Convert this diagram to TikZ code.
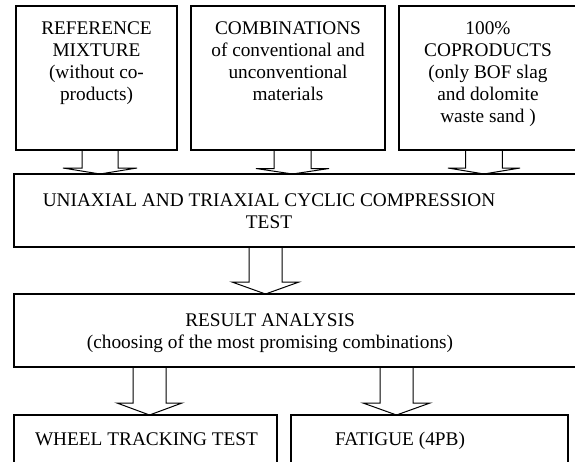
\documentclass[tikz,border=0pt]{standalone}
\usepackage{fontspec}
\setmainfont{Liberation Serif}
\usetikzlibrary{calc}
\tikzset{
  box/.style={draw, line width=1.3pt, inner sep=0pt, outer sep=0pt, anchor=north west},
  txt/.style={font=\fontsize{19.3}{22}\selectfont, align=center, inner sep=0pt, anchor=base},
  arrowline/.style={draw, line width=1pt, line join=miter}
}
% #1 from, #2 to, #3 centre x, #4 half stem, #5 half head, #6 head height
\newcommand{\blockarr}[6]{%
  \draw[arrowline] let \p1=(#1.south), \p2=(#2.north) in
    (#3-#4,\y1) -- (#3-#4,\y2+#6) -- (#3-#5,\y2+#6) -- (#3,\y2)
    -- (#3+#5,\y2+#6) -- (#3+#4,\y2+#6) -- (#3+#4,\y1);}
\begin{document}
\begin{tikzpicture}[x=1pt,y=-1pt]
\useasboundingbox (0,0) rectangle (575,461);
\clip (0,0) rectangle (575,461);
% boxes
\node[box, minimum width=161pt, minimum height=144pt] (b1) at (16,6) {};
\node[box, minimum width=194pt, minimum height=144pt] (b2) at (191,6) {};
\node[box, minimum width=181pt, minimum height=144pt] (b3) at (399,6) {};
\node[box, minimum width=571pt, minimum height=73pt] (uni) at (14,174) {};
\node[box, minimum width=571pt, minimum height=73pt] (res) at (14,294) {};
\node[box, minimum width=263pt, minimum height=55pt] (wheel) at (14,415) {};
\node[box, minimum width=277pt, minimum height=55pt] (fat) at (291,415) {};
% texts (anchor = baseline of the last line)
\node[txt] (t1) at (96.5,100.3) {REFERENCE\\MIXTURE\\(without co-\\products)};
\node[txt] (t2) at (288,100.3) {COMBINATIONS\\of conventional and\\unconventional\\materials};
\node[txt] (t3) at (488,122.3) {100\%\\COPRODUCTS\\(only BOF slag\\and dolomite\\waste sand )};
\node[txt] (tu) at (269,228) {UNIAXIAL AND TRIAXIAL CYCLIC COMPRESSION\\TEST};
\node[txt] (tr) at (270,348) {RESULT ANALYSIS\\(choosing of the most promising combinations)};
\node[txt] (tw) at (146.5,445.7) {WHEEL TRACKING TEST};
\node[txt] (tf) at (400,445.7) {FATIGUE (4PB)};
% arrows
\blockarr{b1}{uni}{100pt}{18pt}{37pt}{6pt}
\blockarr{b2}{uni}{292.5pt}{18.5pt}{36.5pt}{5.5pt}
\blockarr{b3}{uni}{484pt}{18.3pt}{36pt}{6pt}
\blockarr{uni}{res}{265.5pt}{16.5pt}{33.5pt}{12pt}
\blockarr{res}{wheel}{149.5pt}{16.5pt}{32.5pt}{12pt}
\blockarr{res}{fat}{396.5pt}{16.5pt}{33.5pt}{12pt}
\end{tikzpicture}
\end{document}
